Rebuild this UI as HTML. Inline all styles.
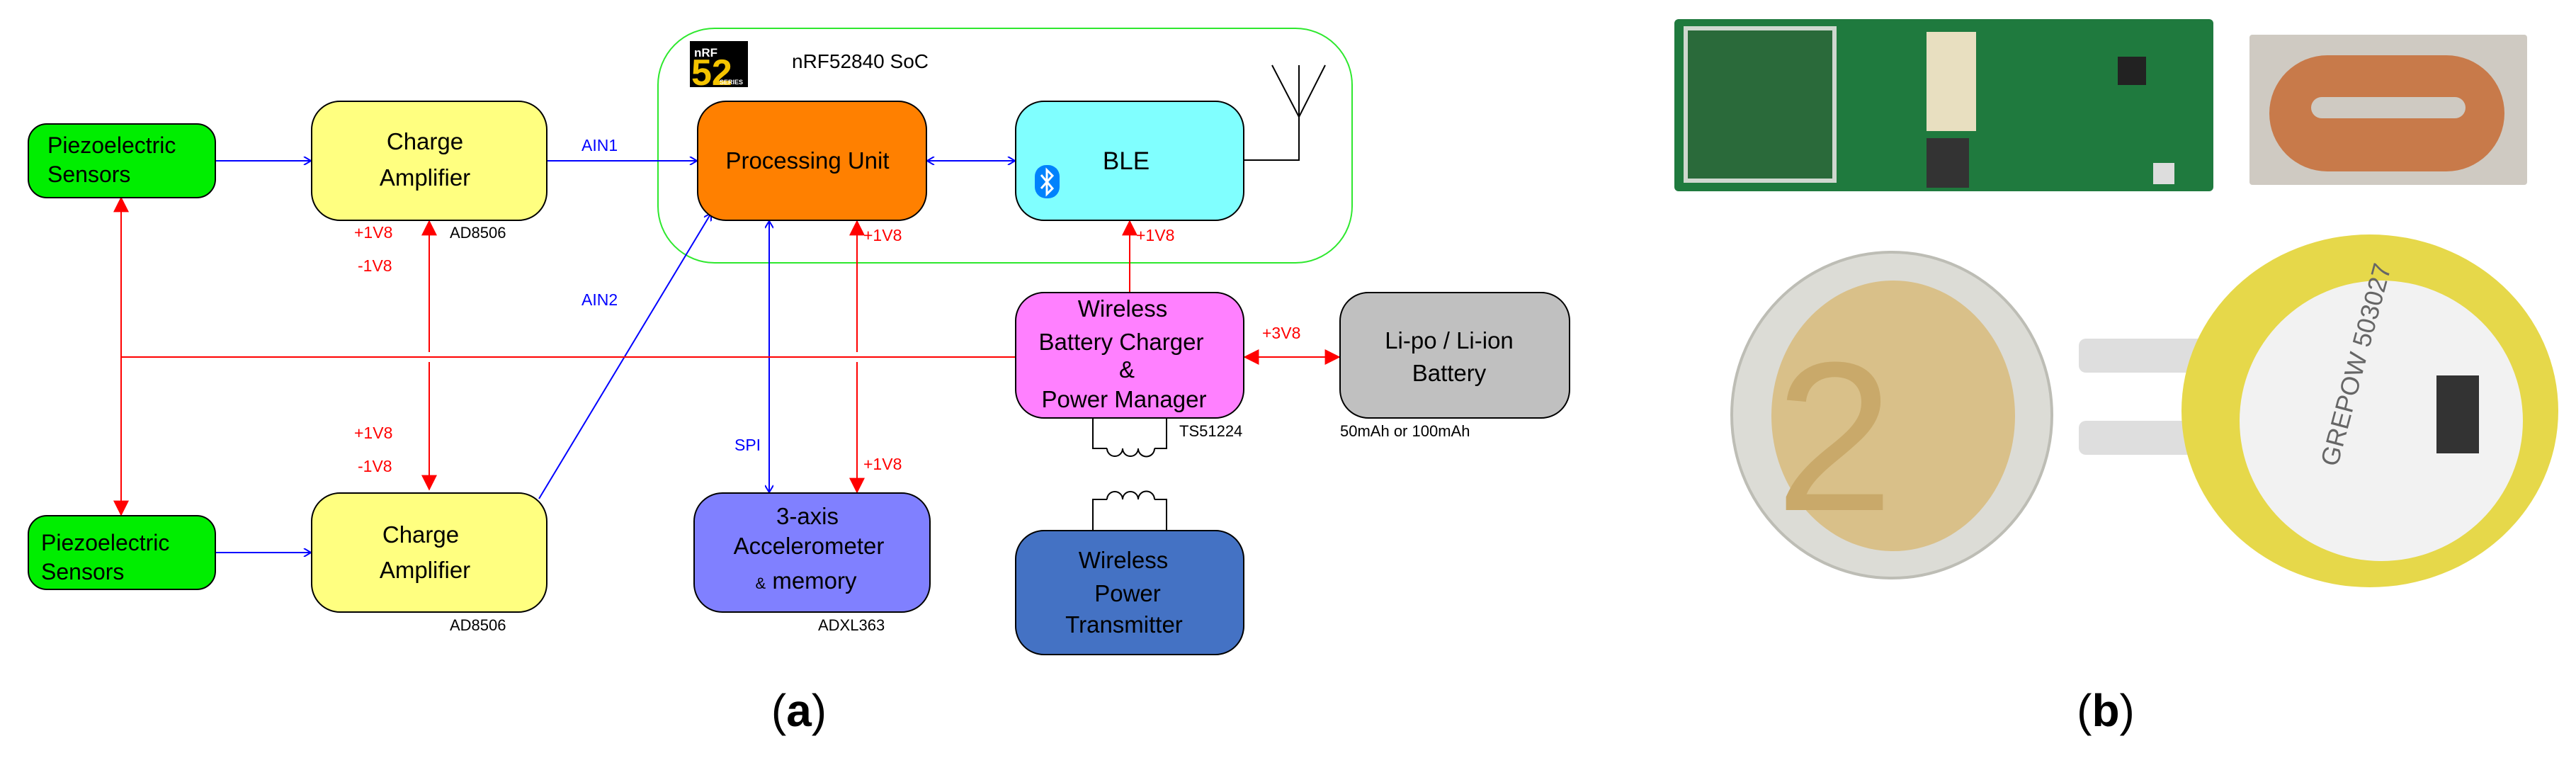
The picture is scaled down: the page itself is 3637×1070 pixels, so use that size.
<!DOCTYPE html>
<html><head><meta charset="utf-8"><style>
html,body{margin:0;padding:0;background:#fff;}
svg{display:block;}
text{font-family:"Liberation Sans",Arial,sans-serif;}
</style></head><body>
<svg width="3637" height="1070" viewBox="0 0 3637 1070" xmlns="http://www.w3.org/2000/svg">
<defs>
<marker id="bo" viewBox="0 0 12 12" refX="11" refY="6" markerWidth="12" markerHeight="12" markerUnits="userSpaceOnUse" orient="auto-start-reverse"><path d="M1,0 L11,6 L1,12" fill="none" stroke="#00f" stroke-width="2"/></marker>
<marker id="rf" viewBox="0 0 14 14" refX="13" refY="7" markerWidth="22" markerHeight="22" markerUnits="userSpaceOnUse" orient="auto-start-reverse"><path d="M0,0 L14,7 L0,14 z" fill="#f00"/></marker>
</defs>
<!-- SoC container -->
<rect x="929" y="40" width="980" height="331" rx="80" fill="none" stroke="#2ee82e" stroke-width="2"/>
<rect x="974" y="58" width="82" height="65" fill="#000"/>
<text x="980" y="80" font-size="17" font-weight="bold" fill="#fff">nRF</text>
<text x="976" y="120" font-size="52" font-weight="bold" fill="#f5c400">52</text>
<text x="1016" y="119" font-size="9" font-weight="bold" fill="#fff">SERIES</text>
<text x="1118" y="96" font-size="28" fill="#000">nRF52840 SoC</text>

<!-- wires -->
<g stroke="#00f" stroke-width="2" fill="none">
<line x1="304" y1="227" x2="439" y2="227" marker-end="url(#bo)"/>
<line x1="304" y1="780" x2="439" y2="780" marker-end="url(#bo)"/>
<line x1="772" y1="227" x2="984" y2="227" marker-end="url(#bo)"/>
<line x1="761" y1="704" x2="1004" y2="301" marker-end="url(#bo)"/>
<line x1="1309" y1="227" x2="1433" y2="227" marker-start="url(#bo)" marker-end="url(#bo)"/>
<line x1="1086" y1="312" x2="1086" y2="695" marker-start="url(#bo)" marker-end="url(#bo)"/>
</g>
<g stroke="#f00" stroke-width="2" fill="none">
<line x1="171" y1="504" x2="1434" y2="504"/>
<line x1="171" y1="279" x2="171" y2="727" marker-start="url(#rf)" marker-end="url(#rf)"/>
<line x1="606" y1="312" x2="606" y2="497" marker-start="url(#rf)"/>
<line x1="606" y1="511" x2="606" y2="691" marker-end="url(#rf)"/>
<line x1="1210" y1="312" x2="1210" y2="497" marker-start="url(#rf)"/>
<line x1="1210" y1="511" x2="1210" y2="695" marker-end="url(#rf)"/>
<line x1="1595" y1="312" x2="1595" y2="413" marker-start="url(#rf)"/>
<line x1="1757" y1="504" x2="1891" y2="504" marker-start="url(#rf)" marker-end="url(#rf)"/>
</g>
<!-- antenna -->
<g stroke="#000" stroke-width="2" fill="none">
<polyline points="1756,226 1834,226 1834,92"/>
<polyline points="1796,92 1834,165 1871,92"/>
<!-- transformer -->
<polyline points="1543,590 1543,633 1563,633"/>
<polyline points="1647,590 1647,633 1630,633"/>
<path d="M1563,633 a11,11 0 0 0 22,0 a11,11 0 0 0 22,0 a11,11 0 0 0 23,0"/>
<path d="M1563,705 a11,11 0 0 1 22,0 a11,11 0 0 1 22,0 a11,11 0 0 1 23,0"/>
<polyline points="1563,705 1543,705 1543,749"/>
<polyline points="1630,705 1647,705 1647,749"/>
</g>

<!-- boxes -->
<g stroke="#000" stroke-width="2">
<rect x="40" y="175" width="264" height="104" rx="26" fill="#00ee00"/>
<rect x="40" y="728" width="264" height="104" rx="26" fill="#00ee00"/>
<rect x="440" y="143" width="332" height="168" rx="40" fill="#ffff80"/>
<rect x="440" y="696" width="332" height="168" rx="40" fill="#ffff80"/>
<rect x="985" y="143" width="323" height="168" rx="40" fill="#ff8000"/>
<rect x="1434" y="143" width="322" height="168" rx="40" fill="#80ffff"/>
<rect x="1434" y="413" width="322" height="177" rx="40" fill="#ff80ff"/>
<rect x="1892" y="413" width="324" height="177" rx="40" fill="#c0c0c0"/>
<rect x="980" y="696" width="333" height="168" rx="40" fill="#8080ff"/>
<rect x="1434" y="749" width="322" height="175" rx="40" fill="#4472c4"/>
</g>
<!-- bluetooth icon -->
<rect x="1461" y="233" width="35" height="47" rx="16" fill="#0082fc"/>
<polyline points="1470,247 1486,266 1478,274 1478,240 1486,248 1470,266" fill="none" stroke="#fff" stroke-width="3"/>

<g font-size="32" fill="#000">
<text x="67" y="216">Piezoelectric</text>
<text x="67" y="257">Sensors</text>
<text x="58" y="777">Piezoelectric</text>
<text x="58" y="818">Sensors</text>
</g>
<g font-size="33" fill="#000" text-anchor="middle">
<text x="600" y="211">Charge</text>
<text x="600" y="262">Amplifier</text>
<text x="594" y="766">Charge</text>
<text x="600" y="816">Amplifier</text>
<text x="1140" y="238">Processing Unit</text>
<text x="1590" y="239" font-size="35">BLE</text>
<text x="1585" y="447">Wireless</text>
<text x="1583" y="494">Battery Charger</text>
<text x="1591" y="533">&amp;</text>
<text x="1587" y="575">Power Manager</text>
<text x="2046" y="492">Li-po / Li-ion</text>
<text x="2046" y="538">Battery</text>
<text x="1140" y="740">3-axis</text>
<text x="1142" y="782">Accelerometer</text>
<text x="1138" y="831"><tspan font-size="22">&amp;</tspan> memory</text>
<text x="1586" y="802">Wireless</text>
<text x="1592" y="849">Power</text>
<text x="1587" y="893">Transmitter</text>
</g>
<g font-size="22" fill="#000">
<text x="635" y="336">AD8506</text>
<text x="635" y="890">AD8506</text>
<text x="1155" y="890">ADXL363</text>
<text x="1665" y="616">TS51224</text>
<text x="1892" y="616">50mAh or 100mAh</text>
</g>
<g font-size="23" fill="#00f">
<text x="821" y="213">AIN1</text>
<text x="821" y="431">AIN2</text>
<text x="1037" y="636">SPI</text>
</g>
<g font-size="23" fill="#f00">
<text x="500" y="336">+1V8</text>
<text x="505" y="383">-1V8</text>
<text x="500" y="619">+1V8</text>
<text x="505" y="666">-1V8</text>
<text x="1219" y="340">+1V8</text>
<text x="1219" y="663">+1V8</text>
<text x="1604" y="340">+1V8</text>
<text x="1782" y="478">+3V8</text>
</g>
<text x="1128" y="1025" font-size="64" text-anchor="middle" font-family="Liberation Serif,serif" fill="#000">(<tspan font-weight="bold">a</tspan>)</text>
<text x="2973" y="1025" font-size="64" text-anchor="middle" font-family="Liberation Serif,serif" fill="#000">(<tspan font-weight="bold">b</tspan>)</text>

<!-- photo (b) approximation -->
<rect x="2364" y="27" width="761" height="243" rx="6" fill="#1f7a3e"/>
<rect x="2380" y="40" width="210" height="215" fill="#2a6a3a" stroke="#cfd8cf" stroke-width="6"/>
<rect x="2720" y="45" width="70" height="140" fill="#e8dfc0"/>
<rect x="2720" y="195" width="60" height="70" fill="#333"/>
<rect x="2990" y="80" width="40" height="40" fill="#222"/>
<rect x="3040" y="230" width="30" height="30" fill="#ddd"/>
<rect x="3176" y="49" width="392" height="212" rx="4" fill="#cfcac2"/>
<rect x="3204" y="78" width="332" height="164" rx="82" fill="#c87a4a"/>
<rect x="3263" y="137" width="218" height="30" rx="15" fill="#cfcac2"/>
<ellipse cx="2671" cy="586" rx="226" ry="230" fill="#dcdcd6" stroke="#bdbdb5" stroke-width="4"/>
<ellipse cx="2673" cy="587" rx="172" ry="191" fill="#d9c089"/>
<text x="2590" y="720" font-size="300" font-family="Liberation Serif,serif" fill="#c9a96a" text-anchor="middle">2</text>
<rect x="2935" y="478" width="183" height="48" rx="10" fill="#dedede"/>
<rect x="2935" y="594" width="183" height="48" rx="10" fill="#dedede"/>
<ellipse cx="3346" cy="580" rx="266" ry="249" fill="#e6d84a"/>
<ellipse cx="3362" cy="594" rx="200" ry="198" fill="#f2f2f2"/>
<rect x="3440" y="530" width="60" height="110" fill="#333"/>
<text x="3300" y="660" font-size="36" fill="#666" transform="rotate(-75 3300 660)">GREPOW 503027</text>
</svg>
</body></html>
